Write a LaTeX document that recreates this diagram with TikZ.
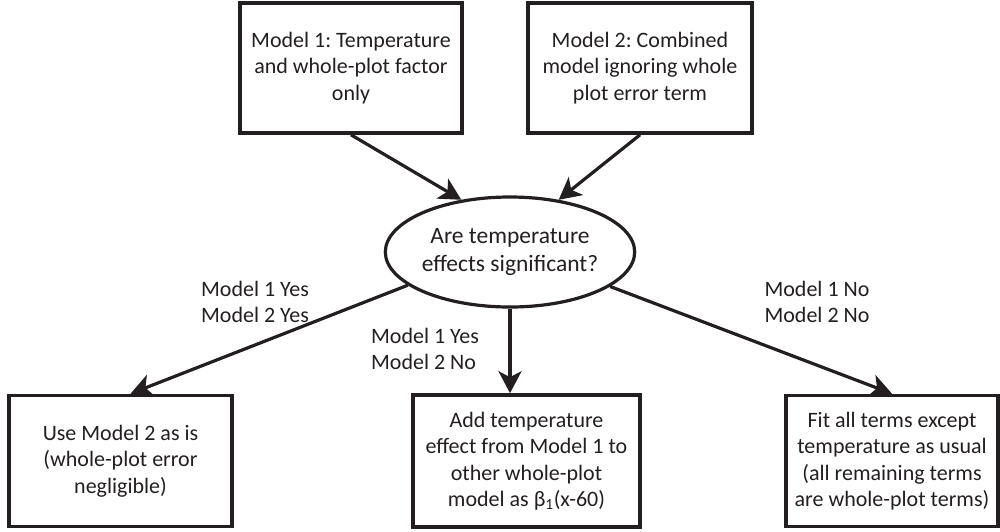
\documentclass[tikz,border=0pt]{standalone}
\usepackage{fontspec}
\setmainfont{Carlito}
\usetikzlibrary{shapes.geometric,arrows.meta,calc}
\definecolor{ink}{HTML}{231F20}
\frenchspacing
\begin{document}
\begin{tikzpicture}[x=1pt,y=-1pt,
  every node/.style={font=\fontsize{22}{26.5}\selectfont,text=ink},
  box/.style={draw=ink,line width=3.6pt,align=center,inner sep=0pt},
  oval/.style={draw=ink,ellipse,line width=3.2pt,align=center,inner sep=0pt,minimum width=222pt,minimum height=110pt,font=\fontsize{23.5}{28}\selectfont},
  lbl/.style={align=left,inner sep=0pt},
  arr/.style={draw=ink,line width=3.2pt,-{Stealth[length=22pt,width=23pt,inset=6pt]}}]
\useasboundingbox (0,0) rectangle (1000,531);
\node[box,minimum width=222pt,minimum height=130pt] (m1) at (351,68) {Model 1: Temperature\\and whole-plot factor\\only};
\node[box,minimum width=224pt,minimum height=130pt] (m2) at (640,68) {Model 2: Combined\\model ignoring whole\\plot error term};
\node[oval] (q) at (510,252) {Are temperature\\effects significant?};
\node[box,minimum width=223pt,minimum height=131pt] (l) at (120.5,461) {Use Model 2 as is\\(whole-plot error\\negligible)};
\node[box,minimum width=227pt,minimum height=132pt] (c) at (526.5,461) {Add temperature\\effect from Model 1 to\\other whole-plot\\model as β\textsubscript{1}(x-60)};
\node[box,minimum width=212pt,minimum height=131pt] (r) at (892,461) {Fit all terms except\\temperature as usual\\(all remaining terms\\are whole-plot terms)};
\draw[arr] (m1.south) -- (q.133);
\draw[arr] (m2.south) -- (q.47);
\draw[arr] (q.198.6) -- ($(l.north)+(10,0)$);
\draw[arr] (q.south) -- ($(c.north)+(-16.5,0)$);
\draw[arr] (q.341.6) -- (r.north);
\node[lbl] (t1) at (255,302) {Model 1 Yes\\Model 2 Yes};
\node[lbl] (t2) at (425,349) {Model 1 Yes\\Model 2 No};
\node[lbl] (t3) at (817,302) {Model 1 No\\Model 2 No};
\end{tikzpicture}
\end{document}
